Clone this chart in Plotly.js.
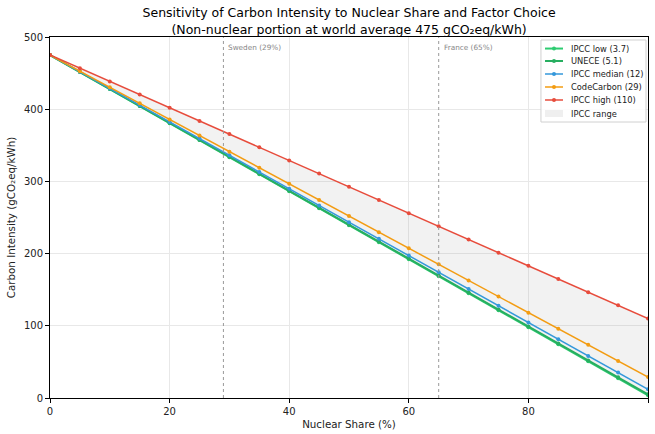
<!DOCTYPE html>
<html>
<head>
<meta charset="utf-8">
<script src="https://cdn.plot.ly/plotly-3.0.1.min.js"></script>
<style>html,body{margin:0;padding:0;background:#fff;}#chart{width:655px;height:434px;}</style>
</head>
<body>
<div id="chart"></div>
<script>
const share = [0,5,10,15,20,25,30,35,40,45,50,55,60,65,70,75,80,85,90,95,100];
const ipccLow = [475,451.4,427.9,404.3,380.7,357.2,333.6,310.0,286.5,262.9,239.4,215.8,192.2,168.7,145.1,121.5,98.0,74.4,50.8,27.3,3.7];
const unece = [475,451.5,428.0,404.5,381.0,357.5,334.0,310.5,287.0,263.5,240.1,216.6,193.1,169.6,146.1,122.6,99.1,75.6,52.1,28.6,5.1];
const ipccMedian = [475,451.9,428.7,405.6,382.4,359.3,336.1,313.0,289.8,266.7,243.5,220.4,197.2,174.1,150.9,127.8,104.6,81.5,58.3,35.2,12];
const codeCarbon = [475,452.7,430.4,408.1,385.8,363.5,341.2,318.9,296.6,274.3,252.0,229.7,207.4,185.1,162.8,140.5,118.2,95.9,73.6,51.3,29];
const ipccHigh = [475,456.8,438.5,420.3,402.0,383.8,365.5,347.3,329.0,310.8,292.5,274.3,256.0,237.8,219.5,201.3,183.0,164.8,146.5,128.3,110];
const seriesNames = ['IPCC low (3.7)','UNECE (5.1)','IPCC median (12)','CodeCarbon (29)','IPCC high (110)'];
const rangeName = 'IPCC range';
const refShares = [29,65];
const refLabels = ['Sweden (29%)','France (65%)'];

const colors = ['#2ecc71','#27ae60','#3498db','#f39c12','#e74c3c'];
const fillColor = 'rgba(128,128,128,0.1)';
const data = [
  {x:share,y:ipccLow,mode:'lines',line:{width:0},showlegend:false,hoverinfo:'skip'},
  {x:share,y:ipccHigh,mode:'lines',line:{width:0},fill:'tonexty',fillcolor:fillColor,showlegend:false,hoverinfo:'skip'}
];
[ipccLow,unece,ipccMedian,codeCarbon,ipccHigh].forEach((ys,i)=>{
  data.push({x:share,y:ys,mode:'lines+markers',name:seriesNames[i],showlegend:false,
    line:{color:colors[i],width:i<2?2:1.5},marker:{color:colors[i],size:4}});
});

const shapes = refShares.map(s=>({type:'line',xref:'x',yref:'paper',x0:s,x1:s,y0:0,y1:1,
  line:{color:'#999',width:1,dash:'dot'}}));
const annotations = refShares.map((s,i)=>({x:s,y:485,xref:'x',yref:'y',text:refLabels[i],
  showarrow:false,xanchor:'left',yanchor:'middle',xshift:3,font:{size:7.3,color:'#888'}}));

// custom legend (compact, matplotlib-like)
const lgX0=0.821, lgX1=0.9967, lgY0=0.7645, lgY1=0.9917;
const rowY=[0.968,0.9335,0.8975,0.8615,0.8255,0.788];
const lnX0=0.8278, lnX1=0.8579, mkX=0.8428, txX=0.8679;
const rx=2/598, ry=2/361;
shapes.push({type:'rect',xref:'paper',yref:'paper',x0:lgX0,x1:lgX1,y0:lgY0,y1:lgY1,
  line:{color:'#d0d0d0',width:1},fillcolor:'rgba(255,255,255,0.85)',layer:'above'});
seriesNames.forEach((n,i)=>{
  shapes.push({type:'line',xref:'paper',yref:'paper',x0:lnX0,x1:lnX1,y0:rowY[i],y1:rowY[i],
    line:{color:colors[i],width:i<2?2:1.5},layer:'above'});
  shapes.push({type:'circle',xref:'paper',yref:'paper',x0:mkX-rx,x1:mkX+rx,y0:rowY[i]-ry,y1:rowY[i]+ry,
    line:{color:colors[i],width:0},fillcolor:colors[i],layer:'above'});
  annotations.push({xref:'paper',yref:'paper',x:txX,y:rowY[i],text:n,showarrow:false,
    xanchor:'left',yanchor:'middle',font:{size:8.3,color:'#222'}});
});
shapes.push({type:'rect',xref:'paper',yref:'paper',x0:lnX0,x1:lnX1,y0:rowY[5]-3.5/361,y1:rowY[5]+3.5/361,
  line:{width:0},fillcolor:'#efefef',layer:'above'});
annotations.push({xref:'paper',yref:'paper',x:txX,y:rowY[5],text:rangeName,showarrow:false,
  xanchor:'left',yanchor:'middle',font:{size:8.3,color:'#222'}});

const layout = {
  width:655,height:434,
  margin:{l:50,r:7,t:37,b:36},
  paper_bgcolor:'#fff',plot_bgcolor:'#fff',
  font:{family:'DejaVu Sans, sans-serif',color:'#222'},
  showlegend:false,
  title:{text:'Sensitivity of Carbon Intensity to Nuclear Share and Factor Choice<br>(Non-nuclear portion at world average 475 gCO₂eq/kWh)',
    font:{size:12.5,color:'#000'},x:0.533,xanchor:'center',y:0.96,yanchor:'top'},
  xaxis:{range:[0,100],tickvals:[0,20,40,60,80,100],showgrid:true,gridcolor:'#e8e8e8',
    showline:true,linecolor:'#000',linewidth:1,mirror:true,ticks:'outside',ticklen:4,tickcolor:'#000',
    zeroline:false,tickfont:{size:10,color:'#222'},
    title:{text:'Nuclear Share (%)',font:{size:10.3,color:'#222'},standoff:4}},
  yaxis:{range:[0,500],tickvals:[0,100,200,300,400,500],showgrid:true,gridcolor:'#e8e8e8',
    showline:true,linecolor:'#000',linewidth:1,mirror:true,ticks:'outside',ticklen:4,tickcolor:'#000',
    zeroline:false,tickfont:{size:10,color:'#222'},
    title:{text:'Carbon Intensity (gCO₂eq/kWh)',font:{size:10.3,color:'#222'},standoff:6}},
  shapes:shapes,annotations:annotations
};
Plotly.newPlot('chart',data,layout,{displayModeBar:false,staticPlot:true});
</script>
</body>
</html>
